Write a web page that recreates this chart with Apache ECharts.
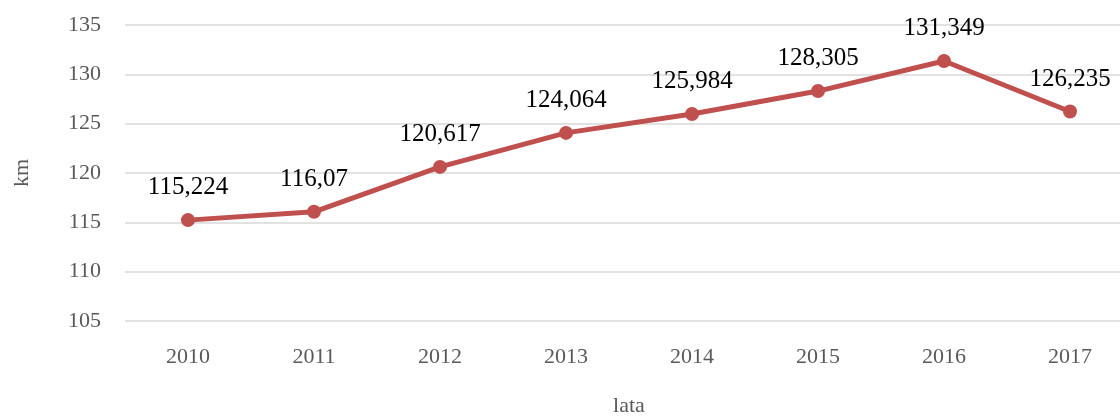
<!DOCTYPE html>
<html>
<head>
<meta charset="utf-8">
<script src="https://cdn.jsdelivr.net/npm/echarts@6/dist/echarts.min.js"></script>
<style>
  html, body { margin: 0; padding: 0; background: #fff; }
  #chart { width: 1120px; height: 417px; }
</style>
</head>
<body>
<div id="chart"></div>
<script>
var years = ['2010', '2011', '2012', '2013', '2014', '2015', '2016', '2017'];
var km = [115.224, 116.07, 120.617, 124.064, 125.984, 128.305, 131.349, 126.235];

var chart = echarts.init(document.getElementById('chart'));
var serif = '"Liberation Serif", "DejaVu Serif", serif';

chart.setOption({
  animation: false,
  grid: {
    left: 125,
    top: 25,
    width: 1008,
    height: 296,
    outerBoundsMode: 'none',
    containLabel: false
  },
  xAxis: {
    type: 'category',
    data: years,
    boundaryGap: true,
    name: 'lata',
    nameLocation: 'center',
    nameGap: 74,
    nameTextStyle: { fontFamily: serif, fontSize: 22, color: '#595959' },
    axisLine: { show: false },
    axisTick: { show: false },
    axisLabel: { fontFamily: serif, fontSize: 22, color: '#595959', margin: 25 }
  },
  yAxis: {
    type: 'value',
    min: 105,
    max: 135,
    interval: 5,
    name: 'km',
    nameLocation: 'center',
    nameGap: 92,
    nameTextStyle: { fontFamily: serif, fontSize: 22, color: '#595959' },
    axisLine: { show: false },
    axisTick: { show: false },
    axisLabel: { fontFamily: serif, fontSize: 22, color: '#595959', margin: 24 },
    splitLine: { lineStyle: { color: '#d9d9d9', width: 1.5 } }
  },
  series: [{
    type: 'line',
    data: km,
    symbol: 'circle',
    symbolSize: 14,
    lineStyle: { color: '#C0504D', width: 5 },
    itemStyle: { color: '#C0504D' },
    label: {
      show: true,
      position: 'top',
      distance: 13,
      fontFamily: serif,
      fontSize: 25,
      color: '#000',
      formatter: function (p) {
        return String(p.value).replace('.', ',');
      }
    }
  }]
});
</script>
</body>
</html>
